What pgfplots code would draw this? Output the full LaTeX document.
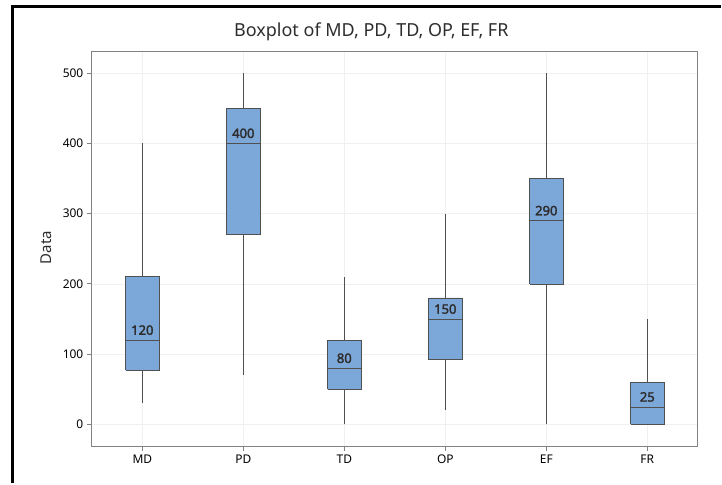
\documentclass[border=0pt]{standalone}
\usepackage{pgfplots}
\pgfplotsset{compat=1.18}
\usepackage{fontspec}
\setmainfont{Noto Sans}
\newfontfamily\lblfont[FakeBold=2.2]{Noto Sans}
\definecolor{boxfill}{RGB}{124,167,217}
\definecolor{boxedge}{RGB}{80,80,80}
\definecolor{gridc}{RGB}{240,240,240}
\definecolor{axc}{RGB}{130,130,130}
\definecolor{txt}{RGB}{45,45,45}
\pgfplotsset{
  bx/.style={fill=boxfill, draw=boxedge, line width=0.7pt},
  ln/.style={draw=boxedge, line width=0.7pt, mark=none},
}
\begin{document}
\begin{tikzpicture}
\draw[line width=2.5pt] (12.5pt,0pt) -- (12.5pt,477.5pt) -- (722pt,477.5pt);
\draw[draw=none] (0pt,0pt) rectangle (722pt,484pt);
\node[font=\fontsize{18}{21}\selectfont, text=txt] at (372pt,452pt) {Boxplot of MD, PD, TD, OP, EF, FR};
\node[font=\fontsize{15}{17}\selectfont, text=txt, rotate=90] at (46pt,236pt) {Data};
\begin{axis}[at={(92pt,37pt)}, anchor=south west, scale only axis,
  width=607pt, height=395pt,
  xmin=0.5, xmax=6.5, ymin=-31, ymax=530,
  xtick={1,2,3,4,5,6}, xticklabels={MD,PD,TD,OP,EF,FR},
  ytick={0,100,200,300,400,500},
  xtick pos=left, ytick pos=left, tick align=outside, major tick length=5pt,
  axis line style={axc, line width=0.9pt}, tick style={axc, line width=0.8pt},
  grid=major, major grid style={gridc, line width=0.6pt},
  ticklabel style={font=\fontsize{12}{14}\selectfont, text=black},
  /pgf/number format/assume math mode=true,
]
% whiskers
\addplot[ln] coordinates {(1,30) (1,400)};
\addplot[ln] coordinates {(2,70) (2,500)};
\addplot[ln] coordinates {(3,0) (3,210)};
\addplot[ln] coordinates {(4,20) (4,300)};
\addplot[ln] coordinates {(5,0) (5,500)};
\addplot[ln] coordinates {(6,0) (6,150)};
% boxes (Q1, Q3)
\addplot[bx] coordinates {(0.835,77) (1.165,77) (1.165,210) (0.835,210) (0.835,77)};
\addplot[bx] coordinates {(1.835,270) (2.165,270) (2.165,450) (1.835,450) (1.835,270)};
\addplot[bx] coordinates {(2.835,50) (3.165,50) (3.165,120) (2.835,120) (2.835,50)};
\addplot[bx] coordinates {(3.835,92) (4.165,92) (4.165,180) (3.835,180) (3.835,92)};
\addplot[bx] coordinates {(4.835,200) (5.165,200) (5.165,350) (4.835,350) (4.835,200)};
\addplot[bx] coordinates {(5.835,0) (6.165,0) (6.165,60) (5.835,60) (5.835,0)};
% medians
\addplot[ln] coordinates {(0.835,120) (1.165,120)};
\addplot[ln] coordinates {(1.835,400) (2.165,400)};
\addplot[ln] coordinates {(2.835,80) (3.165,80)};
\addplot[ln] coordinates {(3.835,150) (4.165,150)};
\addplot[ln] coordinates {(4.835,290) (5.165,290)};
\addplot[ln] coordinates {(5.835,25) (6.165,25)};
% median labels
\addplot[draw=none, mark=none, nodes near coords={\lblfont\pgfplotspointmeta}, point meta=explicit symbolic,
  nodes near coords style={font=\fontsize{13}{14}\selectfont, text=txt, anchor=south, inner sep=0pt, yshift=5pt}]
  coordinates {(1,120)[120] (2,400)[400] (3,80)[80] (4,150)[150] (5,290)[290] (6,25)[25]};
\end{axis}
\end{tikzpicture}
\end{document}
